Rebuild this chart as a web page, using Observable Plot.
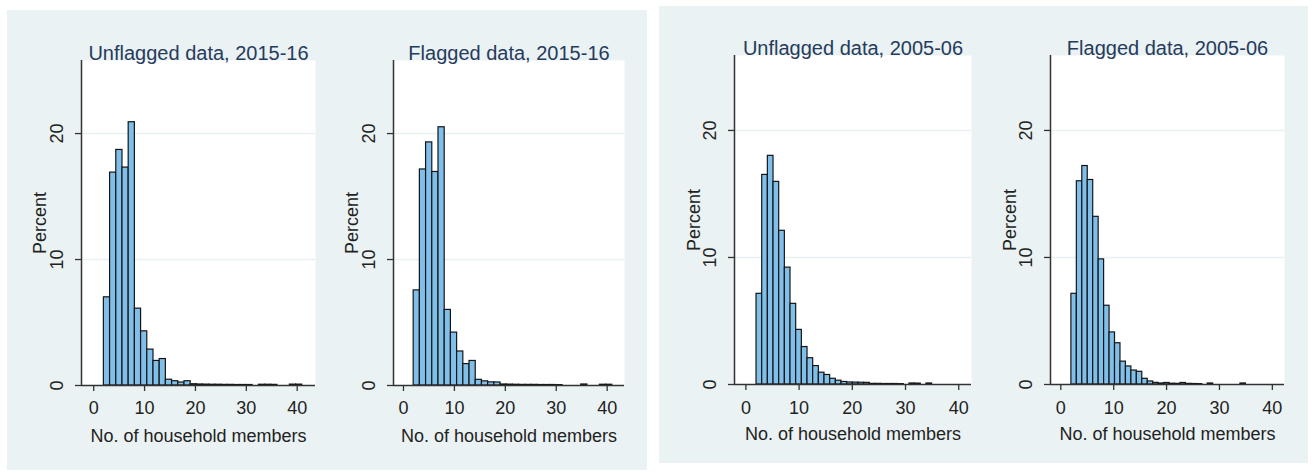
<!DOCTYPE html>
<html>
<head>
<meta charset="utf-8">
<script src="https://cdn.jsdelivr.net/npm/d3@7"></script>
<script src="https://cdn.jsdelivr.net/npm/@observablehq/plot@0.6"></script>
<style>
  html, body { margin: 0; padding: 0; background: #ffffff; }
  #chart { position: relative; width: 1314px; height: 473px; overflow: hidden; font-family: "Liberation Sans", Arial, sans-serif; }
  .panel { position: absolute; background: #eaf2f3; }
  .hist { position: absolute; }
</style>
</head>
<body>
<div id="chart"></div>
<script>
// Household size histograms (percent of households per bin).
// Bins start at 2 members; each survey round has its own bin width.
const binStart = 2;
const binWidth2015 = 39 / 32;   // 32 bins spanning 2..41
const binWidth2005u = 33 / 31;  // 31 bins spanning 2..35
const binWidth2005f = 33 / 32;  // 32 bins spanning 2..35

const unflagged2015 = [7.0, 16.9, 18.7, 17.3, 20.9, 6.1, 4.3, 2.85, 1.95, 2.1, 0.46, 0.34, 0.24, 0.34,
  0.1, 0.08, 0.07, 0.06, 0.06, 0.05, 0.05, 0.04, 0.04, 0.04, 0, 0.06, 0.06, 0.05, 0, 0, 0.07, 0.07];
const flagged2015 = [7.55, 17.15, 19.3, 16.95, 20.5, 6.0, 4.2, 2.7, 1.7, 1.95, 0.45, 0.33, 0.25, 0.24,
  0.08, 0.07, 0.06, 0.05, 0.05, 0.05, 0.04, 0.04, 0.04, 0.03, 0, 0, 0, 0.08, 0, 0, 0.06, 0.06];
const unflagged2005 = [7.14, 16.5, 18.0, 15.95, 12.1, 9.2, 6.35, 4.3, 2.95, 2.07, 1.45, 0.93, 0.75, 0.45, 0.3, 0.2,
  0.16, 0.15, 0.14, 0.13, 0.05, 0.05, 0.04, 0.04, 0.04, 0.03, 0, 0.08, 0.07, 0, 0.08];
const flagged2005 = [7.14, 16.0, 17.2, 16.1, 13.2, 9.85, 6.2, 4.1, 3.25, 1.8, 1.42, 1.1, 1.0, 0.45, 0.24, 0.13,
  0.08, 0.12, 0.06, 0.05, 0.12, 0.05, 0.04, 0.03, 0, 0.08, 0, 0, 0, 0, 0, 0.08];

const titles = ["Unflagged data, 2015-16", "Flagged data, 2015-16", "Unflagged data, 2005-06", "Flagged data, 2005-06"];
const xTicks = [0, 10, 20, 30, 40];
const yTicks = [0, 10, 20];
const xLabel = "No. of household members";
const yLabel = "Percent";

const chart = document.getElementById("chart");

// Two grey graph regions, each holding a pair of histograms
const regions = [
  {left: 7, top: 10, width: 640, height: 460},
  {left: 659, top: 6, width: 649, height: 457}
];
for (const r of regions) {
  const d = document.createElement("div");
  d.className = "panel";
  Object.assign(d.style, {left: r.left + "px", top: r.top + "px", width: r.width + "px", height: r.height + "px"});
  chart.appendChild(d);
}

const layouts = [
  {values: unflagged2015, binWidth: binWidth2015, left: 7,   top: 10, w: 320, h: 460, ml: 74, mr: 12, mt: 50, mb: 85, xd: [-2.4, 43.6], yd: [0, 25.8], tickPad: 10, xlab: 56, pct: -41},
  {values: flagged2015,   binWidth: binWidth2015, left: 327, top: 10, w: 320, h: 460, ml: 66, mr: 23, mt: 50, mb: 85, xd: [-1.96, 43.4], yd: [0, 25.8], tickPad: 10, xlab: 56, pct: -41},
  {values: unflagged2005, binWidth: binWidth2005u, left: 659, top: 6, w: 325, h: 457, ml: 75, mr: 13, mt: 49, mb: 79, xd: [-2.14, 42.4], yd: [0, 25.9], tickPad: 11, xlab: 55, pct: -40},
  {values: flagged2005,   binWidth: binWidth2005f, left: 984, top: 6, w: 324, h: 457, ml: 66, mr: 24, mt: 49, mb: 79, xd: [-1.95, 42.3], yd: [0, 25.9], tickPad: 11, xlab: 55, pct: -40}
];

layouts.forEach((L, i) => {
  const bins = L.values
    .map((pct, k) => ({x1: binStart + k * L.binWidth, x2: binStart + (k + 1) * L.binWidth, pct}))
    .filter(d => d.pct > 0);

  const svg = Plot.plot({
    width: L.w,
    height: L.h,
    marginLeft: L.ml,
    marginRight: L.mr,
    marginTop: L.mt,
    marginBottom: L.mb,
    style: {background: "transparent", fontFamily: "'Liberation Sans', Arial, sans-serif", fontSize: "18px", color: "#222", overflow: "visible"},
    x: {domain: L.xd},
    y: {domain: L.yd},
    marks: [
      Plot.frame({fill: "white", stroke: "none"}),
      Plot.ruleY([10, 20], {stroke: "#e8f0f2", strokeWidth: 1.5}),
      Plot.rectY(bins, {x1: "x1", x2: "x2", y: "pct", fill: "#80bfe9", stroke: "#151515", strokeWidth: 1.2, inset: 0}),
      Plot.ruleX([L.xd[0]], {stroke: "#333", strokeWidth: 1.5}),
      Plot.ruleY([0], {stroke: "#333", strokeWidth: 1.5}),
      Plot.axisX({ticks: xTicks, tickSize: 6, tickPadding: L.tickPad, fontSize: 18, label: null, stroke: "#333", strokeWidth: 1.3}),
      Plot.axisY({ticks: yTicks, tickSize: 6, tickFormat: () => "", label: null, stroke: "#333", strokeWidth: 1.3}),
      Plot.text(yTicks, {y: d => d, text: d => String(d), frameAnchor: "left", rotate: -90, dx: -24, textAnchor: "middle", fontSize: 18, fill: "#222"}),
      Plot.text([yLabel], {text: d => d, frameAnchor: "left", rotate: -90, dx: L.pct, textAnchor: "middle", fontSize: 18, fill: "#222"}),
      Plot.text([xLabel], {text: d => d, frameAnchor: "bottom", dy: L.xlab, textAnchor: "middle", fontSize: 18, fill: "#222"}),
      Plot.text([titles[i]], {text: d => d, frameAnchor: "top", dy: -14.5, textAnchor: "middle", fontSize: 20, fill: "#263b5c"})
    ]
  });
  svg.classList.add("hist");
  Object.assign(svg.style, {position: "absolute", left: L.left + "px", top: L.top + "px"});
  chart.appendChild(svg);
});
</script>
</body>
</html>
